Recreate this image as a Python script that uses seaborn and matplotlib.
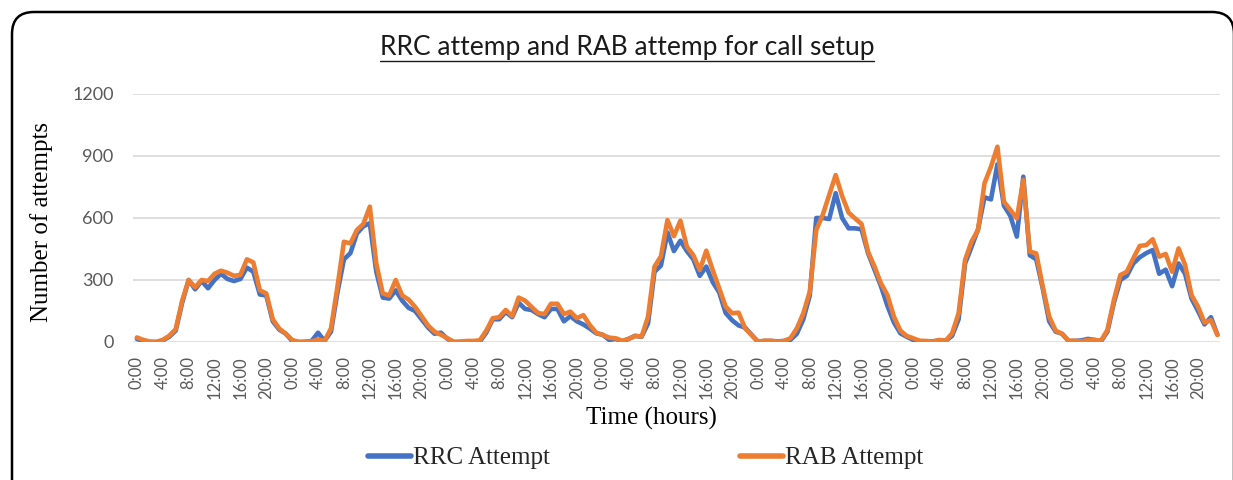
import numpy as np
import pandas as pd
import matplotlib
matplotlib.use("Agg")
import matplotlib.pyplot as plt
from matplotlib.patches import FancyBboxPatch
from matplotlib.lines import Line2D
import seaborn as sns

# ---------------- data ----------------
time_labels = [f"{h}:00" for d in range(7) for h in range(24)]

rrc_attempt = [
    15, 5, 0, 0, 8, 25, 55, 190, 300, 255, 295, 260, 300, 330, 305, 295, 305, 360, 340, 230, 225, 100, 60, 40,
    5, 0, 0, 5, 45, 5, 50, 240, 400, 430, 525, 560, 575, 340, 215, 210, 250, 200, 165, 150, 110, 70, 40, 45,
    15, 0, 0, 2, 2, 2, 45, 110, 110, 145, 120, 190, 160, 155, 135, 120, 160, 160, 100, 125, 100, 85, 65, 42,
    35, 10, 15, 3, 15, 30, 25, 90, 340, 370, 530, 440, 490, 440, 400, 320, 365, 290, 240, 140, 105, 80, 70, 35,
    0, 5, 5, 3, 5, 10, 40, 110, 225, 600, 600, 595, 720, 600, 550, 550, 545, 430, 350, 270, 175, 95, 42, 25,
    10, 3, 3, 3, 8, 5, 30, 110, 380, 460, 545, 700, 690, 860, 660, 610, 510, 800, 420, 400, 260, 100, 50, 40,
    5, 5, 8, 15, 10, 3, 50, 190, 300, 320, 380, 410, 430, 445, 330, 350, 270, 380, 330, 210, 150, 85, 120, 35,
]

rab_attempt = [
    22, 10, 2, 0, 10, 30, 62, 200, 300, 265, 300, 295, 330, 345, 335, 320, 325, 400, 385, 250, 235, 110, 65, 40,
    10, 0, 2, 3, 12, 5, 66, 268, 485, 477, 542, 571, 655, 380, 235, 225, 300, 225, 205, 170, 125, 80, 50, 35,
    18, 0, 2, 5, 5, 8, 55, 115, 120, 155, 125, 215, 200, 170, 140, 135, 185, 185, 135, 147, 115, 130, 82, 45,
    34, 21, 18, 6, 15, 29, 26, 122, 365, 415, 590, 512, 587, 461, 420, 348, 442, 348, 260, 171, 139, 142, 66, 34,
    2, 6, 6, 2, 5, 18, 66, 139, 244, 542, 615, 711, 808, 706, 626, 598, 571, 437, 365, 284, 227, 123, 55, 29,
    18, 6, 5, 2, 10, 6, 42, 139, 397, 486, 542, 768, 848, 945, 679, 639, 598, 784, 437, 429, 268, 123, 55, 39,
    6, 6, 3, 10, 10, 6, 58, 203, 324, 340, 405, 465, 469, 497, 413, 426, 340, 453, 373, 227, 171, 94, 106, 34,
]

series_names = ["RRC Attempt", "RAB Attempt"]
series_colors = ["#4472C4", "#ED7D31"]
y_ticks = [0, 300, 600, 900, 1200]

# ---------------- figure ----------------
sns.set_theme(style="white")
plt.rcParams["font.family"] = ["Lato", "DejaVu Sans"]

W, H = 1233, 480
fig = plt.figure(figsize=(W / 100, H / 100), dpi=100)
fig.patch.set_facecolor("white")

ax = fig.add_axes([133 / W, 1 - 342 / H, (1220 - 133) / W, (342 - 94) / H])

df = pd.DataFrame({
    "hour": list(range(len(rrc_attempt))) * 2,
    "value": rrc_attempt + rab_attempt,
    "series": [series_names[0]] * len(rrc_attempt) + [series_names[1]] * len(rab_attempt),
})

sns.lineplot(data=df, x="hour", y="value", hue="series",
             palette=dict(zip(series_names, series_colors)),
             linewidth=3.3, legend=False, ax=ax, estimator=None)

ax.set_xlim(-0.6, 167.4)
ax.set_ylim(0, 1200)
ax.set_yticks(y_ticks)
ax.set_yticklabels([str(v) for v in y_ticks], fontsize=13, color="#595959")
xt = list(range(0, len(time_labels), 4))
ax.set_xticks(xt)
ax.set_xticklabels([time_labels[i] for i in xt], rotation=90, fontsize=12, color="#595959")
ax.tick_params(axis="y", length=0, pad=14)
ax.tick_params(axis="x", length=0, pad=10)
ax.set_xlabel("")
ax.set_ylabel("")
for s in ax.spines.values():
    s.set_visible(False)
ax.yaxis.grid(True, color="#D9D9D9", linewidth=1.2)
ax.xaxis.grid(False)
ax.set_axisbelow(True)

serif = ["Liberation Serif", "DejaVu Serif"]
fig.text(42 / W, 1 - 222 / H, "Number of attempts", rotation=90, ha="center", va="center",
         fontsize=18, family=serif, color="black")
fig.text(651 / W, 1 - 418 / H, "Time (hours)", ha="center", va="center",
         fontsize=18, family=serif, color="black")

title = fig.text(627 / W, 1 - 47 / H, "RRC attemp and RAB attemp for call setup",
                 ha="center", va="center", fontsize=19, color="#1a1a1a")

handles = [Line2D([0], [0], color=c, lw=4) for c in series_colors]
leg = fig.legend(handles, series_names, loc="center", bbox_to_anchor=(646 / W, 1 - 458 / H),
                 ncol=2, frameon=False, handlelength=1.7, handletextpad=0.1,
                 columnspacing=7.6, prop={"family": serif, "size": 18})

# border in pixel coordinates
bg = fig.add_axes([0, 0, 1, 1], zorder=-1)
bg.set_xlim(0, W)
bg.set_ylim(H, 0)
bg.axis("off")
bg.add_patch(FancyBboxPatch((12, 12), 1222, 560, boxstyle="round,pad=0,rounding_size=22",
                            fill=False, edgecolor="black", linewidth=1.8))

# underline under title
fig.canvas.draw()
bb = title.get_window_extent()
fig.add_artist(Line2D([bb.x0 / W, bb.x1 / W], [(bb.y0 - 1) / H, (bb.y0 - 1) / H],
                      transform=fig.transFigure, color="#1a1a1a", lw=1.0))

fig.savefig("out.png", dpi=100)
